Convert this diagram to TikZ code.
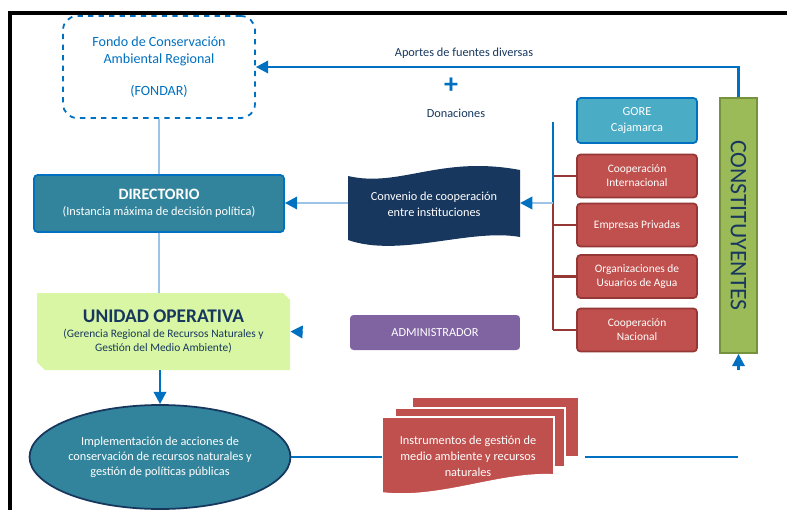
\documentclass[tikz,border=0pt]{standalone}
\usepackage{fontspec}
\setmainfont{Carlito}
\usetikzlibrary{arrows.meta,shapes.geometric}

\definecolor{arrowblue}{HTML}{0070C0}
\definecolor{lightline}{HTML}{9DC3E6}
\definecolor{tealbox}{HTML}{31849B}
\definecolor{navy}{HTML}{17375E}
\definecolor{redbox}{HTML}{C0504D}
\definecolor{redline}{HTML}{953735}
\definecolor{gorebox}{HTML}{4BACC6}
\definecolor{purplebox}{HTML}{8064A2}
\definecolor{greenbox}{HTML}{9BBB59}
\definecolor{greenline}{HTML}{76923C}
\definecolor{limebox}{HTML}{D8F6A4}

\begin{document}
\begin{tikzpicture}[x=0.02cm, y=-0.02cm,
    box/.style={rectangle, rounded corners=2pt, align=center, inner sep=1pt,
      text=white, font=\fontsize{6.5}{8}\selectfont},
    redb/.style={box, fill=redbox, draw=redline, line width=1pt,
      minimum width=2.4cm, minimum height=0.86cm},
    conn/.style={draw=arrowblue, line width=1.5pt},
    faint/.style={draw=lightline, line width=1.5pt},
    arr/.style={conn, -{Triangle[length=7pt, width=7pt, color=arrowblue]}}]
        \useasboundingbox (0,0) rectangle (787,510);

        % Frame
        \draw[line width=1.8pt] (10,510) -- (10,13) -- (787,13);

        % Fund
        \node[rectangle, rounded corners=8pt, draw=arrowblue, dashed, line width=1pt,
          minimum width=3.84cm, minimum height=2.04cm, align=center, text=arrowblue,
          font=\fontsize{8}{10}\selectfont] (fondar) at (159,67)
          {Fondo de Conservación\\Ambiental Regional\\[8pt](FONDAR)};

        % Left column
        \node[box, fill=tealbox, draw=arrowblue, line width=1pt, minimum width=5cm,
          minimum height=1.14cm, font=\fontsize{7}{9}\selectfont] (dir) at (159,203.5)
          {{\fontsize{9}{11}\selectfont\bfseries DIRECTORIO}\\(Instancia máxima de decisión política)};
        \fill[limebox] (37,293) -- (283,293) -- (290,300) -- (290,370) -- (45,370) -- (37,362) -- cycle;
        \node[align=center, text=navy, inner sep=0pt, minimum width=5.06cm, minimum height=1.54cm,
          font=\fontsize{6.5}{8}\selectfont] (unidad) at (163.5,331.5)
          {{\fontsize{11}{13}\selectfont\bfseries UNIDAD OPERATIVA}\\(Gerencia Regional de Recursos Naturales y\\Gestión del Medio Ambiente)};
        \node[ellipse, fill=tealbox, draw=navy, line width=1pt, minimum width=5.22cm,
          minimum height=2.08cm, align=center, text=white, inner sep=0pt,
          font=\fontsize{7}{8.5}\selectfont] (acciones) at (160,457)
          {Implementación de acciones de\\conservación de recursos naturales y\\gestión de políticas públicas};

        % Middle column
        \fill[navy] (348,176) .. controls (400,188) and (440,155) .. (520,170)
          -- (520,237) .. controls (470,228) and (400,258) .. (348,240) -- cycle;
        \node[align=center, text=white, font=\fontsize{7}{9}\selectfont] (convenio) at (434,204)
          {Convenio de cooperación\\entre instituciones};
        \node[box, fill=purplebox, minimum width=3.4cm, minimum height=0.7cm,
          font=\fontsize{7}{9}\selectfont] (admin) at (435,332.5) {ADMINISTRADOR};
        \filldraw[fill=redbox, draw=white, line width=1pt] (412,397) rectangle (579,457);
        \filldraw[fill=redbox, draw=white, line width=1pt] (395,408) rectangle (565,467);
        \filldraw[fill=redbox, draw=white, line width=1pt] (382,417) -- (554,417) -- (554,475)
          .. controls (500,472) and (440,500) .. (382,493) -- cycle;
        \node[align=center, text=white, font=\fontsize{7}{9}\selectfont] (instr) at (468,456)
          {Instrumentos de gestión de\\medio ambiente y recursos\\naturales};

        % Right column
        \node[box, fill=gorebox, draw=arrowblue, line width=1pt, minimum width=2.4cm,
          minimum height=0.9cm, font=\fontsize{7}{9}\selectfont] (gore) at (637,120.5) {GORE\\Cajamarca};
        \node[redb] (coopint) at (637,176) {Cooperación\\Internacional};
        \node[redb] (empresas) at (637,225) {Empresas Privadas};
        \node[redb] (usuarios) at (637,276.5) {Organizaciones de\\Usuarios de Agua};
        \node[redb] (coopnac) at (637,330) {Cooperación\\Nacional};
        \node[rectangle, fill=greenbox, draw=greenline, line width=1pt, minimum width=0.74cm,
          minimum height=5.1cm] (const) at (738.5,225.5) {};
        \node[rotate=-90, text=navy, font=\fontsize{13.5}{15}\selectfont] at (const.center) {CONSTITUYENTES};

        % Bracket
        \coordinate (btop) at (553,122);
        \coordinate (bmid) at (553,203);
        \draw[conn] (btop) -- (bmid);
        \draw[draw=redline, line width=1.5pt] (bmid) -- (coopnac.west -| bmid);
        \foreach \n in {coopint, empresas, usuarios, coopnac}
          \draw[draw=redline, line width=1.5pt] (\n.west -| bmid) -- (\n.west);

        % Connectors
        \draw[faint] (fondar.south) -- (dir.north);
        \draw[faint] (dir.south) -- (dir.south |- unidad.north);
        \draw[arr] (const.north) |- (fondar.east);
        \node[text=arrowblue, font=\fontsize{16}{16}\selectfont\bfseries] (plus) at (451,86) {+};
        \node[text=navy, font=\fontsize{7}{9}\selectfont] (aportes) at (464,53) {Aportes de fuentes diversas};
        \node[text=navy, font=\fontsize{7}{9}\selectfont] (donac) at (456,113) {Donaciones};
        \draw[faint, -{Triangle[length=7pt, width=7pt, color=arrowblue]}] (bmid) -- (520,203);
        \draw[faint, -{Triangle[length=7pt, width=7pt, color=arrowblue]}] (348,203) -- (dir.east |- 348,203);
        \coordinate (astub) at (303,332);
        \draw[faint, -{Triangle[length=7pt, width=7pt, color=arrowblue]}] (astub) -- (unidad.east);
        \draw[arr] (unidad.south -| acciones.north) -- (acciones.north);
        \coordinate (docW) at (382,457);
        \coordinate (docE) at (585,457);
        \coordinate (endR) at (738,457);
        \draw[conn] (acciones.east) -- (docW);
        \draw[conn] (docE) -- (endR);
        \coordinate (cstub) at (738.5,370);
        \draw[arr] (cstub) -- (const.south);

      \end{tikzpicture}
\end{document}
